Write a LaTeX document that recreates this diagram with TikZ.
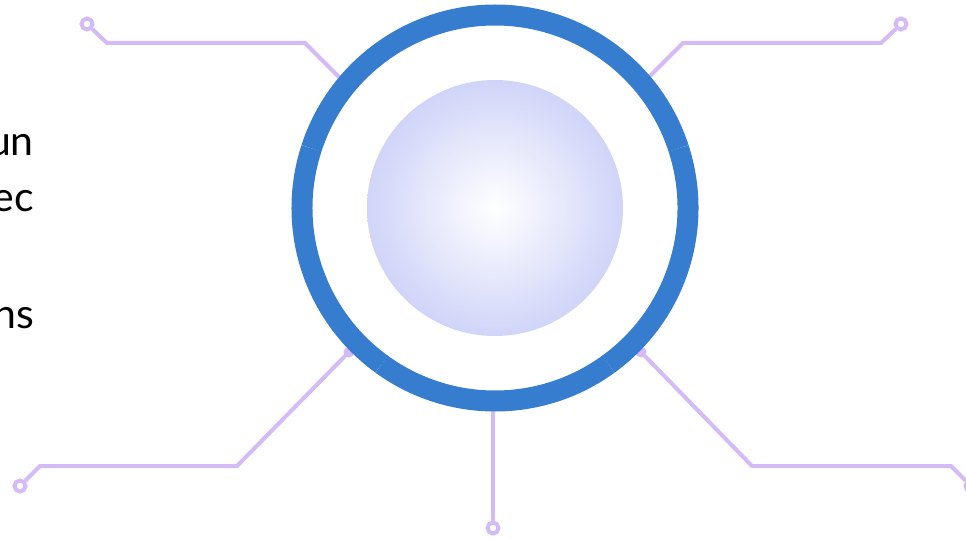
\documentclass[tikz,border=0pt]{standalone}
\usepackage{fontspec}
\setmainfont{Lato}
\usepackage{tikz}
\usepackage{xcolor}
\usetikzlibrary{arrows.meta,positioning,calc}
\definecolor{ringblue}{RGB}{54,125,207}
\definecolor{wirepurple}{RGB}{212,187,245}
\definecolor{diskblue}{RGB}{208,212,248}

\begin{document}
\begin{tikzpicture}[x=1pt,y=1pt,
  wire/.style={draw=wirepurple,line width=4pt,line join=miter},
  pin/.style={circle,draw=wirepurple,line width=4pt,fill=white,minimum size=11pt,inner sep=0pt},
  pad/.style={circle,fill=wirepurple,minimum size=11pt,inner sep=0pt},
  ringseg/.style={draw=ringblue,line width=21pt},
  disk/.style={circle,minimum size=256pt,inner sep=0pt,shading=radial,inner color=white,outer color=diskblue},
  txt/.style={anchor=base east,inner sep=0pt,font=\fontsize{41pt}{57pt}\selectfont}]
\useasboundingbox (0,0) rectangle (966,539);
% text (cut at the left edge)
\node[txt] (lineA) at (34,383) {un};
\node[txt] (lineB) at (34,327) {ec};
\node[txt] (lineC) at (34,211) {ns};
% wire ends and bends
\node[pin] (pinTL) at (87,515) {};
\node[pin] (pinTR) at (901,515) {};
\node[pin] (pinBL) at (20,53) {};
\node[pin] (pinB) at (493,11) {};
\node[pin] (pinBR) at (971,53) {};
\coordinate (tl1) at (107,496); \coordinate (tl2) at (305,496); \coordinate (tl3) at (348,453);
\coordinate (tr1) at (881,496); \coordinate (tr2) at (683,496); \coordinate (tr3) at (642,455);
\coordinate (bl1) at (40,73); \coordinate (bl2) at (237,73);
\coordinate (br1) at (951,73); \coordinate (br2) at (752,73);
\coordinate (b1) at (493,136);
\node[pad] (padBL) at (349,187) {};
\node[pad] (padBR) at (641,187) {};
\draw[wire] (pinTL) -- (tl1) -- (tl2) -- (tl3);
\draw[wire] (pinTR) -- (tr1) -- (tr2) -- (tr3);
\draw[wire] (pinBL) -- (bl1) -- (bl2) -- (padBL.center);
\draw[wire] (pinBR) -- (br1) -- (br2) -- (padBR.center);
\draw[wire] (pinB) -- (b1);
% hub
\node[disk] (hub) at (495,331) {};
\foreach \a in {18,90,162,234,306}
  \draw[ringseg] ([shift={(\a:193)}]hub.center) arc[start angle=\a,delta angle=72,radius=193];
\end{tikzpicture}
\end{document}
